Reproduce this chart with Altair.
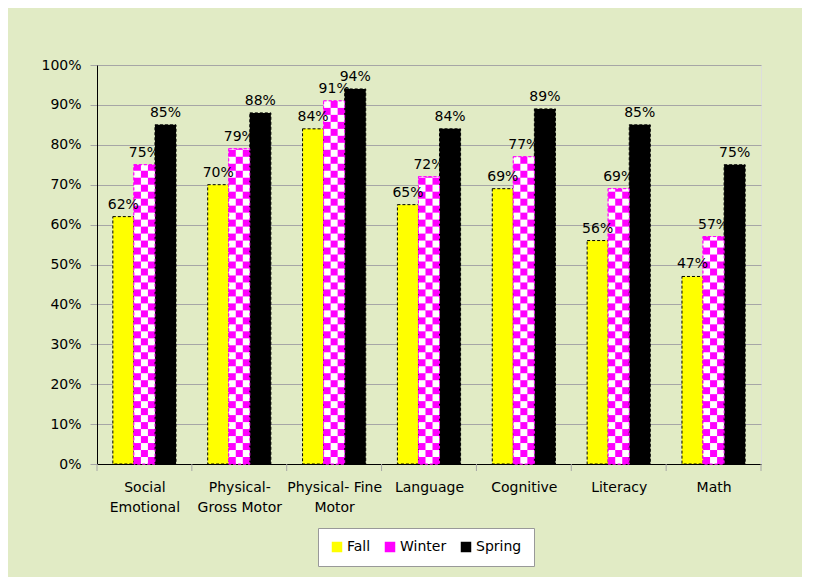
import altair as alt
import pandas as pd

categories = ["Social|Emotional", "Physical-|Gross Motor", "Physical- Fine|Motor",
              "Language", "Cognitive", "Literacy", "Math"]
series = ["Fall", "Winter", "Spring"]
fall = [62, 70, 84, 65, 69, 56, 47]
winter = [75, 79, 91, 72, 77, 69, 57]
spring = [85, 88, 94, 84, 89, 85, 75]
colors = ["#FFFF00", "#FF00FF", "#000000"]

# bar placement within each category band (fraction of band)
group_start = 0.167
bar_w = 0.222
step = 1.75      # checker cell height in %
ncols = 3        # checker columns across a winter bar

rows = []
for i, cat in enumerate(categories):
    for k, (s, vals) in enumerate(zip(series, [fall, winter, spring])):
        x0 = i + group_start + k * bar_w
        rows.append({"cat": cat, "series": s, "value": vals[i], "base": 0,
                     "x0": x0, "x1": x0 + bar_w, "xc": x0 + bar_w / 2,
                     "label": f"{vals[i]}%"})
bars = pd.DataFrame(rows)

cells = []
for i in range(len(categories)):
    v = winter[i]
    x0 = i + group_start + bar_w
    cw = bar_w / ncols
    r = 0
    while r * step < v:
        for c in range(ncols):
            if (r + c) % 2 == 1:
                cells.append({"x0": x0 + c * cw, "x1": x0 + (c + 1) * cw,
                              "y0": r * step, "y1": min((r + 1) * step, v)})
        r += 1
cells = pd.DataFrame(cells)
ticks = pd.DataFrame({"b": list(range(len(categories) + 1))})

W, H = 664, 399
label_arr = "[" + ",".join("'" + c + "'" for c in categories) + "]"

xscale = alt.Scale(domain=[0, len(categories)], nice=False, zero=False)
yscale = alt.Scale(domain=[0, 100], nice=False, zero=True)

x_axis = alt.Axis(values=[i + 0.5 for i in range(len(categories))], ticks=False,
                  grid=False, domainColor="black", domainWidth=1,
                  labelExpr=f"split({label_arr}[floor(datum.value)], '|')",
                  labelFontSize=14, labelLineHeight=20, labelPadding=16,
                  labelColor="black", title=None, minExtent=56, maxExtent=56)
y_axis = alt.Axis(values=list(range(0, 101, 10)), labelExpr="datum.value + '%'",
                  grid=True, gridColor="#A6A6A6", tickColor="#A6A6A6", tickSize=7,
                  domainColor="black", domainWidth=1, labelFontSize=14,
                  labelPadding=9, labelColor="black", title=None,
                  minExtent=84, maxExtent=84)

X = lambda f: alt.X(f, scale=xscale, axis=x_axis)
Y = lambda f: alt.Y(f, scale=yscale, axis=y_axis)

base = alt.Chart(bars)

bar_layer = base.mark_bar(strokeDash=[3, 2], strokeWidth=1).encode(
    x=X("x0:Q"), x2="x1:Q",
    y=Y("value:Q"), y2="base:Q",
    color=alt.Color("series:N", scale=alt.Scale(domain=series, range=colors),
                    legend=alt.Legend(title=None, orient="none", direction="horizontal",
                                      legendX=221, legendY=463,
                                      fillColor="white", strokeColor="#999999",
                                      padding=12, labelFontSize=14,
                                      symbolType="square", symbolSize=110,
                                      labelOffset=3, columnPadding=12,
                                      symbolStrokeWidth=0, labelColor="black")),
    stroke=alt.condition("datum.series == 'Winter'", alt.value("#FF00FF"), alt.value("black")),
)

checker = alt.Chart(cells).mark_rect(color="white").encode(
    x=X("x0:Q"), x2="x1:Q", y=Y("y0:Q"), y2="y1:Q",
)

winter_outline = base.transform_filter("datum.series == 'Winter'").mark_bar(
    fillOpacity=0, stroke="#FF00FF", strokeDash=[3, 2], strokeWidth=1
).encode(x=X("x0:Q"), x2="x1:Q", y=Y("value:Q"), y2="base:Q")

labels = base.mark_text(baseline="bottom", dy=-5, fontSize=14, color="black").encode(
    x=X("xc:Q"), y=Y("value:Q"), text="label:N"
)

tick_marks = alt.Chart(ticks).mark_rule(color="#A6A6A6").encode(
    x=X("b:Q"), y=alt.value(H), y2=alt.value(H + 7)
)

chart = alt.layer(bar_layer, checker, winter_outline, labels, tick_marks).properties(
    width=W, height=H, background="#E1EBC5",
    padding={"left": 5, "top": 50, "right": 40, "bottom": 10},
).configure_view(fill="white", stroke=None).configure(
    font="DejaVu Sans"
)

chart.save("out.html", embed_options={"renderer": "svg", "actions": False})
